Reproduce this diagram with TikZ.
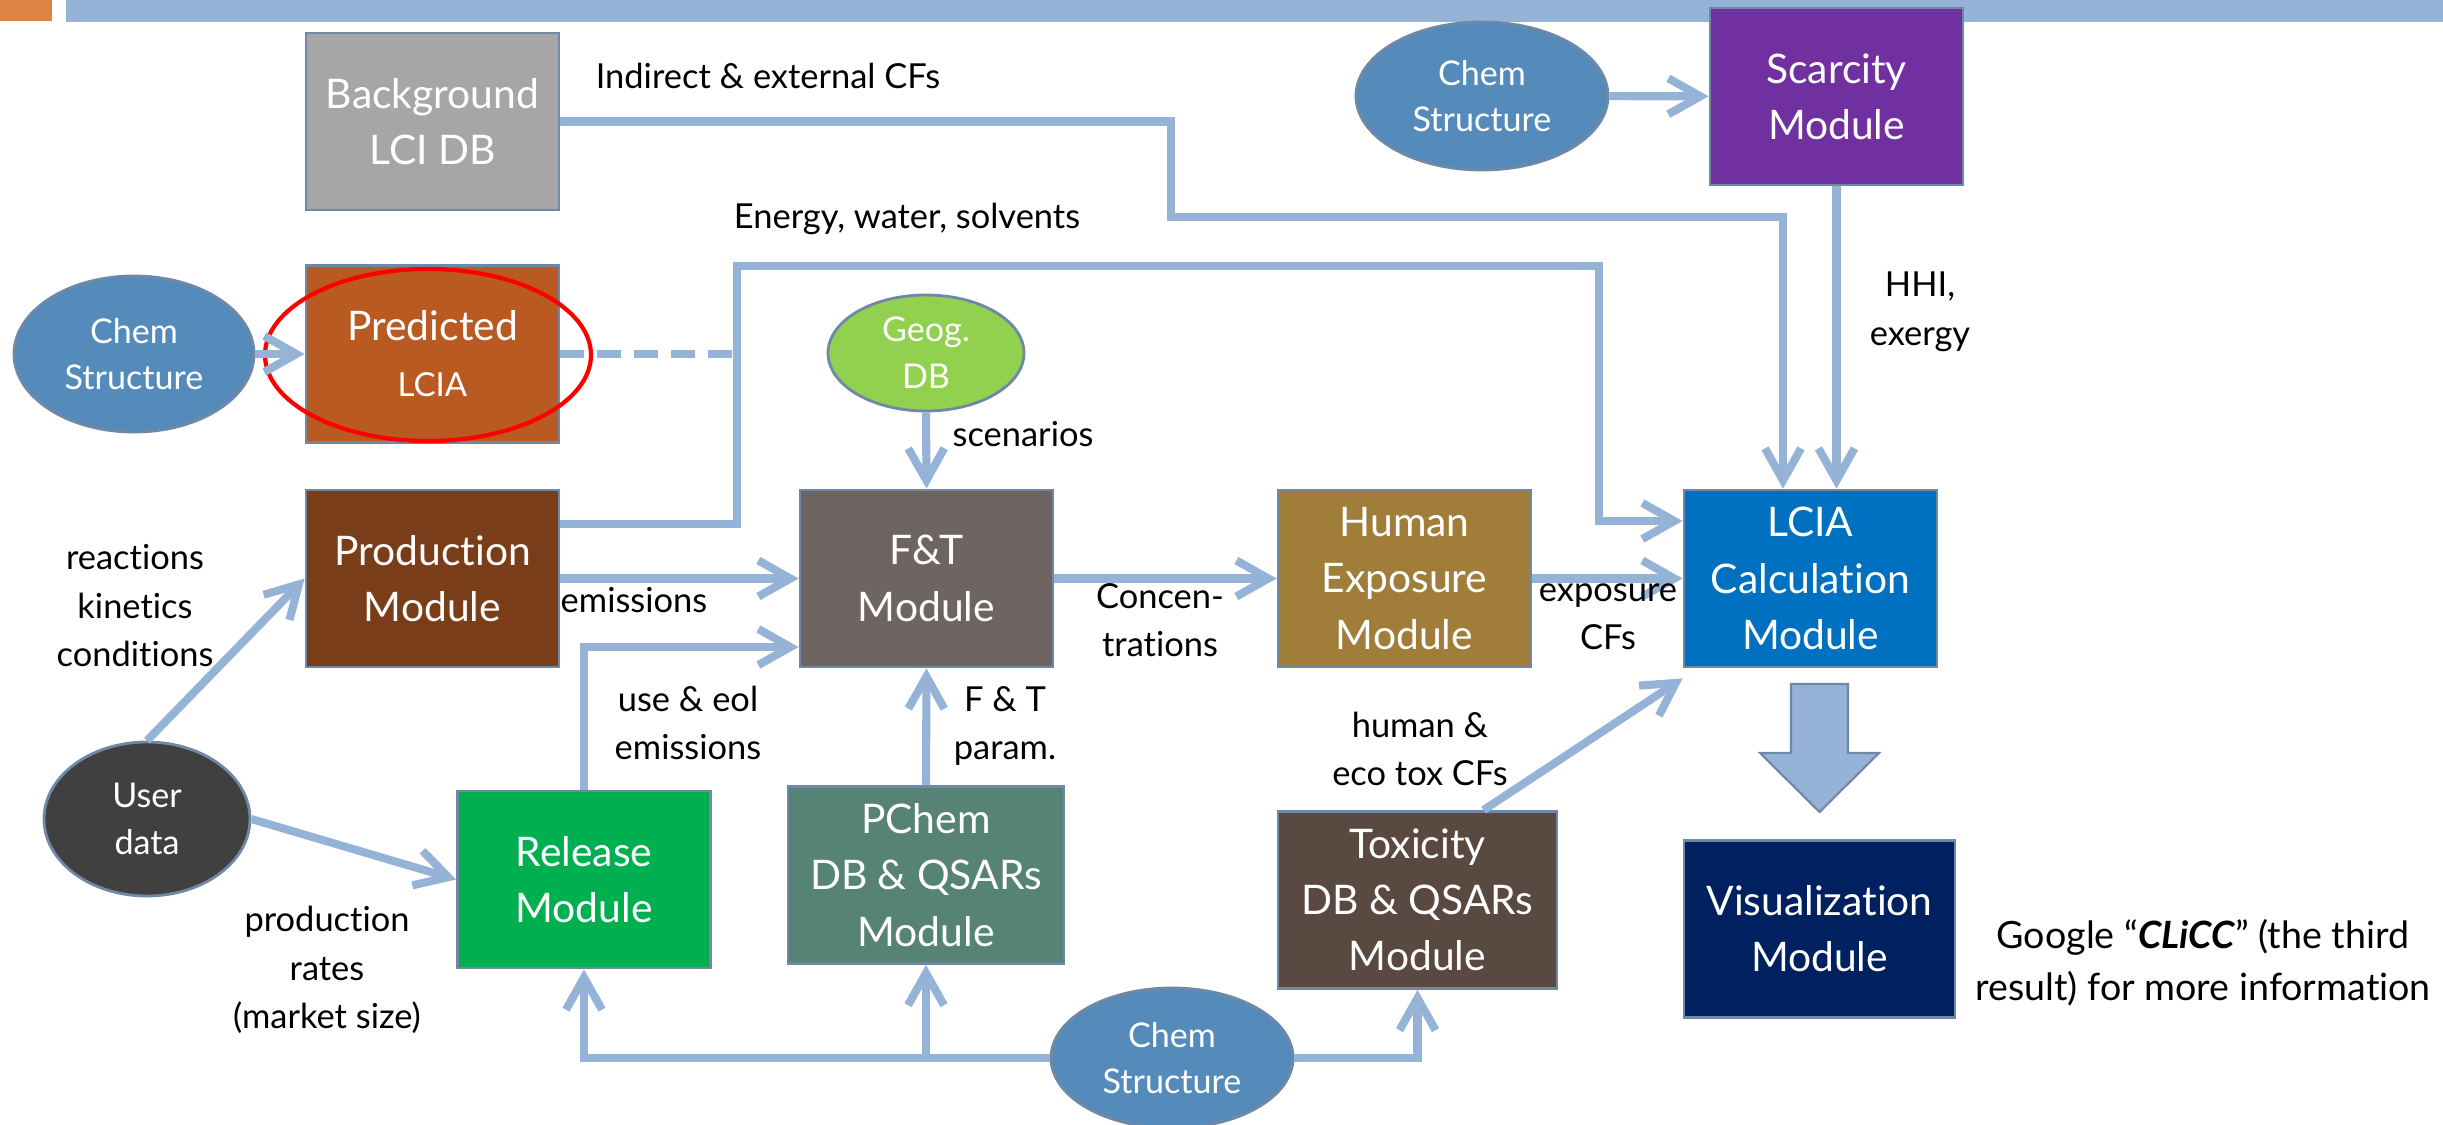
\documentclass[tikz,border=0pt]{standalone}
\usepackage{fontspec}
\setmainfont{Lato}[Ligatures=NoCommon]
\usetikzlibrary{arrows.meta,shapes.geometric}

\definecolor{flowblue}{HTML}{95B3D7}
\definecolor{edgeblue}{HTML}{6F88A6}
\definecolor{baraccent}{HTML}{DF8344}
\definecolor{bggray}{HTML}{A6A6A6}
\definecolor{predorange}{HTML}{BA5A23}
\definecolor{prodbrown}{HTML}{7A3D1A}
\definecolor{ftgray}{HTML}{6E6462}
\definecolor{humanbrown}{HTML}{A07D38}
\definecolor{lciablue}{HTML}{0070C0}
\definecolor{scarpurple}{HTML}{7030A0}
\definecolor{visnavy}{HTML}{002060}
\definecolor{toxbrown}{HTML}{594941}
\definecolor{pchemgreen}{HTML}{578276}
\definecolor{relgreen}{HTML}{00B050}
\definecolor{chemblue}{HTML}{558BBA}
\definecolor{geoggreen}{HTML}{92D050}
\definecolor{usergray}{HTML}{404040}

\tikzset{
  module/.style={draw=edgeblue, line width=0.8pt, text=white, align=center,
    minimum width=25.3mm, minimum height=17.7mm, inner sep=0pt,
    font=\fontsize{11.6}{16}\selectfont},
  blob/.style={ellipse, draw=edgeblue, line width=0.8pt, text=white, align=center,
    inner sep=0pt, font=\fontsize{9.7}{13.3}\selectfont},
  flow/.style={draw=flowblue, line width=2.3pt},
  feed/.style={flow, -{Straight Barb[length=3.2mm,width=3.6mm]}},
  tag/.style={align=center, inner sep=0pt, font=\fontsize{9.8}{13.8}\selectfont},
}

\begin{document}
\begin{tikzpicture}[x=0.1mm, y=-0.1mm]
    \useasboundingbox (0,0) rectangle (2443,1125);
    \fill[white] (0,0) rectangle (2443,1125);

    % Title bar
    \fill[baraccent] (0,0) rectangle (52,21);
    \fill[flowblue] (66,0) rectangle (2443,22);

    % Modules
    \node[module, fill=bggray] (bgdb) at (432.5,121.5) {Background\\LCI DB};
    \node[module, fill=predorange] (pred) at (432.5,354) {Predicted\\{\fontsize{9.4}{12}\selectfont LCIA}};
    \node[module, fill=prodbrown] (prod) at (432.5,578.5) {Production\\Module};
    \node[module, fill=ftgray] (ft) at (926.5,578.5) {F\&T\\Module};
    \node[module, fill=humanbrown] (human) at (1404.5,578.5) {Human\\Exposure\\Module};
    \node[module, fill=lciablue] (lcia) at (1810.5,578.5) {LCIA\\Calculation\\Module};
    \node[module, fill=scarpurple] (scar) at (1836.5,96.5) {Scarcity\\Module};
    \node[module, fill=visnavy, minimum width=27.1mm] (vis) at (1819.5,929) {Visualization\\Module};
    \node[module, fill=toxbrown, minimum width=27.9mm] (tox) at (1417.5,900) {Toxicity\\DB \& QSARs\\Module};
    \node[module, fill=pchemgreen, minimum width=27.6mm] (pchem) at (926,875) {PChem\\DB \& QSARs\\Module};
    \node[module, fill=relgreen] (rel) at (584,879.5) {Release\\Module};

    % Data sources
    \node[blob, fill=chemblue, minimum width=24mm, minimum height=15.6mm] (chemL) at (134,354) {Chem\\Structure};
    \node[blob, fill=chemblue, minimum width=25.2mm, minimum height=14.8mm] (chemT) at (1482,96) {Chem\\Structure};
    \node[blob, fill=chemblue, minimum width=24.2mm, minimum height=14mm] (chemB) at (1172,1058) {Chem\\Structure};
    \node[blob, fill=geoggreen, minimum width=19.6mm, minimum height=11.6mm] (geog) at (926,353) {Geog.\\DB};
    \node[blob, fill=usergray, minimum width=20.6mm, minimum height=15.4mm] (user) at (147,819) {User\\data};

    % Highlight ring
    \node[ellipse, draw=red, line width=1.2pt, minimum width=32.6mm, minimum height=17.2mm] (ring) at (428,355) {};

    % Bend points
    \coordinate (cfA) at (1171,121.5);
    \coordinate (cfB) at (1171,217);
    \coordinate (cfC) at (1783,217);
    \coordinate (enA) at (737,524);
    \coordinate (enB) at (737,266);
    \coordinate (enC) at (1599,266);
    \coordinate (enD) at (1599,521);
    \coordinate (dashend) at (737,354);

    % Connectors
    \draw[feed] (chemL) -- (pred);
    \draw[flow, dash pattern=on 2.4mm off 1.3mm] (pred.east) -- (dashend);
    \draw[feed] (bgdb.east) -- (cfA) -- (cfB) -- (cfC) -- (lcia.north -| cfC);
    \draw[feed] (prod.east |- enA) -- (enA) -- (enB) -- (enC) -- (enD) -- (lcia.west |- enD);
    \draw[feed] (geog.south) -- (ft.north);
    \draw[feed] (prod) -- (ft);
    \draw[feed] (ft) -- (human);
    \draw[feed] (human) -- (lcia);
    \draw[feed] (chemT) -- (scar);
    \draw[feed] (scar.south) -- (lcia.north -| scar.south);
    \draw[feed] ([xshift=6.6mm]tox.north) -- ([yshift=-1mm]lcia.south west);
    \draw[feed] (rel.north) |- ([yshift=-6.85mm]ft.west);
    \draw[feed] (pchem.north) -- (ft.south);
    \draw[feed] (user.north) -- (prod.west);
    \draw[feed] (user.east) -- (rel.west);
    \draw[feed] (chemB.west) -| (rel.south);
    \draw[feed] (pchem.south |- chemB.west) -- (pchem.south);
    \draw[feed] (chemB.east) -| (tox.south);

    % Result arrow
    \draw[edgeblue, fill=flowblue, line width=0.6pt] (1791,684) -- (1848,684) -- (1848,753) -- (1879,753)
        -- (1819.5,812) -- (1760,753) -- (1791,753) -- cycle;

    % Labels
    \node[tag] (lbindirect) at (768,76) {Indirect \& external CFs};
    \node[tag] (lbenergy) at (907,219) {Energy, water, solvents};
    \node[tag] (lbscen) at (1023,434) {scenarios};
    \node[tag] (lbhhi) at (1920,312) {HHI,\\exergy};
    \node[tag] (lbemis) at (634,600) {emissions};
    \node[tag] (lbconc) at (1160,620) {Concen-\\trations};
    \node[tag] (lbexpo) at (1608,617) {exposure\\CFs};
    \node[tag] (lbtox) at (1420,749) {human \&\\eco tox CFs};
    \node[tag] (lbuse) at (688,723) {use \& eol\\emissions};
    \node[tag] (lbparam) at (1005,726) {F \& T\\param.};
    \node[tag] (lbreact) at (135,606) {reactions\\kinetics\\conditions};
    \node[tag] (lbrates) at (327,970) {production\\rates\\(market size)};
    \node[tag, font=\fontsize{10.7}{14.8}\selectfont] (lbgoogle) at (2203,963)
        {Google “\textbf{\textit{CLiCC}}” (the third\\result) for more information};
\end{tikzpicture}
\end{document}
